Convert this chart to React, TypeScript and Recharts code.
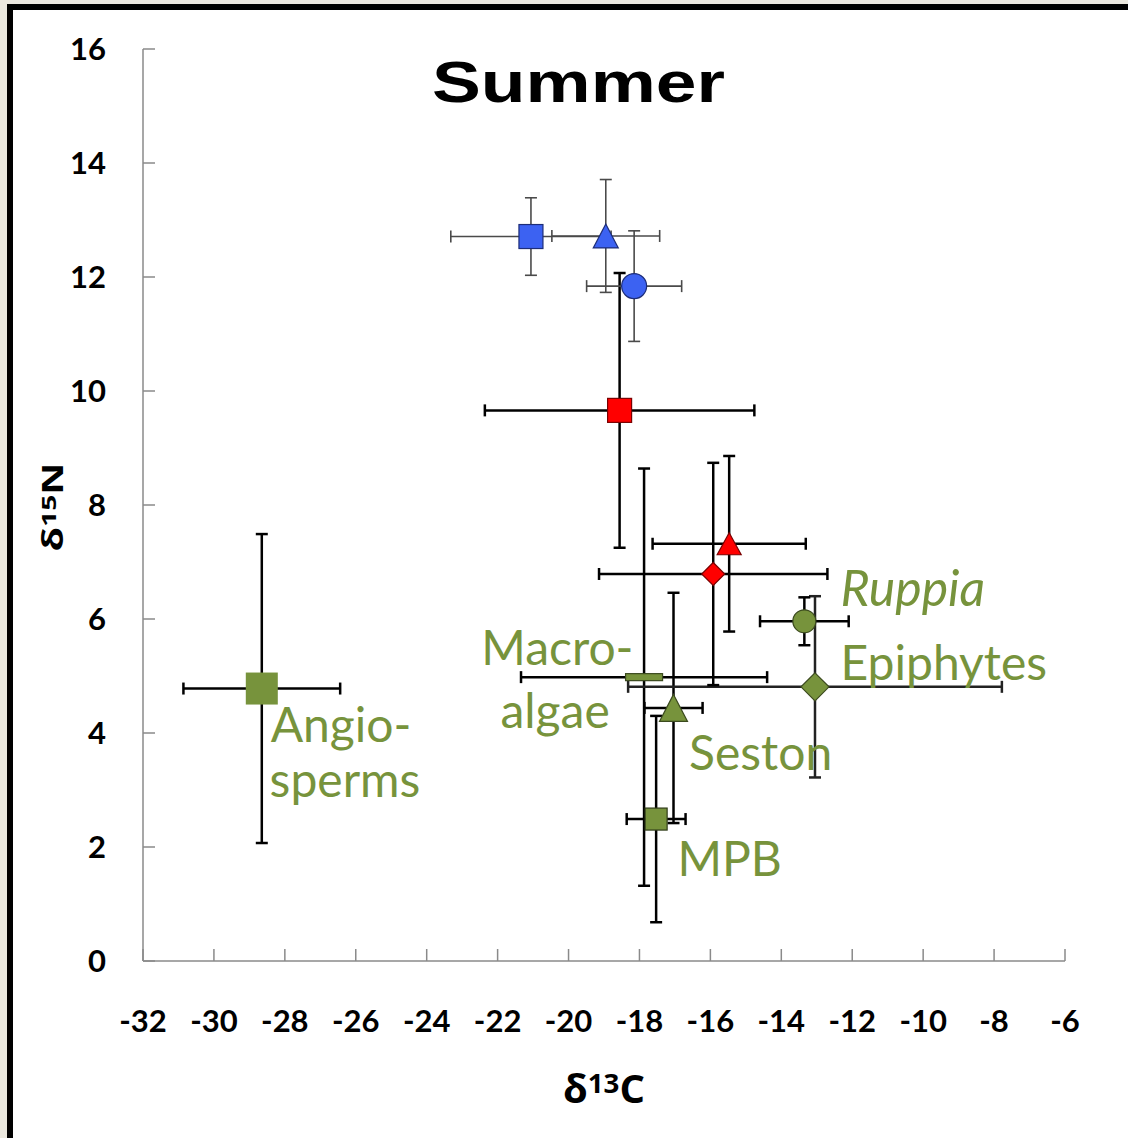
import { ScatterChart, Scatter, XAxis, YAxis, ErrorBar } from 'recharts';

// mean and SD for each source / consumer group
const SERIES = [
  'Angiosperms',
  'Macroalgae',
  'MPB',
  'Seston',
  'Epiphytes',
  'Ruppia',
  'Consumer red square',
  'Consumer red diamond',
  'Consumer red triangle',
  'Consumer blue square',
  'Consumer blue triangle',
  'Consumer blue circle',
];
const D13C = [-28.65, -17.87, -17.53, -17.04, -13.05, -13.35, -18.56, -15.92, -15.47, -21.06, -18.95, -18.15];
const D15N = [4.78, 4.98, 2.49, 4.44, 4.81, 5.96, 9.66, 6.79, 7.32, 12.71, 12.72, 11.84];
const SD13C = [2.21, 3.47, 0.83, 0.82, 5.27, 1.25, 3.8, 3.22, 2.16, 2.26, 1.52, 1.34];
const SD15N = [2.71, 3.66, 1.81, 2.02, 1.59, 0.42, 2.41, 1.95, 1.54, 0.68, 0.99, 0.97];

const X_TICKS = [-32, -30, -28, -26, -24, -22, -20, -18, -16, -14, -12, -10, -8, -6];
const Y_TICKS = [0, 2, 4, 6, 8, 10, 12, 14, 16];

// source name annotations (left end of the text baseline, in axis units)
const LABEL_TEXT = ['Ruppia', 'Epiphytes', 'Macro-', 'algae', 'Seston', 'MPB', 'Angio-', 'sperms'];
const LABEL_X = [-12.33, -12.33, -22.46, -21.92, -16.6, -16.93, -28.4, -28.43];
const LABEL_Y = [6.22, 4.93, 5.2, 4.09, 3.35, 1.49, 3.85, 2.88];

const GREEN = '#77933c';
const BLUE = '#3c62f2';
const RED = '#ff0000';

type Style = {
  kind: 'square' | 'circle' | 'triangle' | 'diamond' | 'bar';
  w: number;
  h: number;
  fill: string;
  stroke: string;
  bar: string;
  barWidth: number;
  barsOnTop?: boolean;
};

const STYLES: Record<string, Style> = {
  Angiosperms: { kind: 'square', w: 32, h: 32, fill: GREEN, stroke: 'none', bar: '#000', barWidth: 2.5, barsOnTop: true },
  Macroalgae: { kind: 'bar', w: 37, h: 7, fill: GREEN, stroke: '#3b4a1e', bar: '#000', barWidth: 2.5 },
  MPB: { kind: 'square', w: 22, h: 22, fill: GREEN, stroke: '#2f3b18', bar: '#000', barWidth: 2.5 },
  Seston: { kind: 'triangle', w: 28, h: 27, fill: GREEN, stroke: '#3b4a1e', bar: '#000', barWidth: 2.5 },
  Epiphytes: { kind: 'diamond', w: 28, h: 28, fill: GREEN, stroke: '#3b4a1e', bar: '#222', barWidth: 2.5 },
  Ruppia: { kind: 'circle', w: 23, h: 23, fill: GREEN, stroke: '#3b4a1e', bar: '#000', barWidth: 2.5 },
  'Consumer red square': { kind: 'square', w: 24, h: 24, fill: RED, stroke: '#7a0000', bar: '#000', barWidth: 2.5 },
  'Consumer red diamond': { kind: 'diamond', w: 23, h: 23, fill: RED, stroke: '#7a0000', bar: '#000', barWidth: 2.5 },
  'Consumer red triangle': { kind: 'triangle', w: 24, h: 22, fill: RED, stroke: '#7a0000', bar: '#000', barWidth: 2.5 },
  'Consumer blue square': { kind: 'square', w: 24, h: 24, fill: BLUE, stroke: '#1d2d78', bar: '#4a4a4a', barWidth: 1.6 },
  'Consumer blue triangle': { kind: 'triangle', w: 25, h: 24, fill: BLUE, stroke: '#1d2d78', bar: '#4a4a4a', barWidth: 1.6 },
  'Consumer blue circle': { kind: 'circle', w: 25, h: 25, fill: BLUE, stroke: '#1d2d78', bar: '#4a4a4a', barWidth: 1.6 },
};

const labelData = LABEL_TEXT.map((text, i) => ({ x: LABEL_X[i], y: LABEL_Y[i], text }));

function Marker(props: any) {
  const { cx, cy, st } = props as { cx: number; cy: number; st: Style };
  if (cx == null || cy == null) return <g />;
  const { w, h, fill, stroke } = st;
  const common = { fill, stroke, strokeWidth: stroke === 'none' ? 0 : 1.2 };
  switch (st.kind) {
    case 'circle':
      return <circle cx={cx} cy={cy} r={w / 2} {...common} />;
    case 'triangle':
      return (
        <polygon
          points={`${cx},${cy - h / 2} ${cx + w / 2},${cy + h / 2} ${cx - w / 2},${cy + h / 2}`}
          {...common}
        />
      );
    case 'diamond':
      return (
        <polygon
          points={`${cx},${cy - h / 2} ${cx + w / 2},${cy} ${cx},${cy + h / 2} ${cx - w / 2},${cy}`}
          {...common}
        />
      );
    default:
      return <rect x={cx - w / 2} y={cy - h / 2} width={w} height={h} {...common} />;
  }
}

function LabelText(props: any) {
  const { cx, cy, payload } = props;
  if (cx == null) return <g />;
  const italic = payload.text === 'Ruppia';
  return (
    <text
      x={cx}
      y={cy}
      fill={GREEN}
      fontFamily="Lato, 'Open Sans', sans-serif"
      fontSize={italic ? 50 : 48}
      fontStyle={italic ? 'italic' : 'normal'}
    >
      {payload.text}
    </text>
  );
}

const tickStyle = { fill: '#000', fontSize: 31, fontFamily: 'Lato, sans-serif', fontWeight: 700 };

export default function App() {
  return (
    <div style={{ position: 'absolute', left: 0, top: 0, width: 1128, height: 1138, background: '#ebe8df', overflow: 'hidden' }}>
      <div
        style={{
          position: 'absolute',
          left: 7,
          top: 4,
          width: 1121,
          height: 1134,
          boxSizing: 'border-box',
          borderLeft: '6px solid #000',
          borderTop: '6px solid #000',
          background: '#fff',
        }}
      />
      <div style={{ position: 'absolute', left: 0, top: 0 }}>
        <ScatterChart width={1128} height={1138} margin={{ top: 49, right: 63, bottom: 77, left: 0 }}>
          <XAxis
            type="number"
            dataKey="x"
            domain={[-32, -6]}
            ticks={X_TICKS}
            interval={0}
            height={100}
            axisLine={{ stroke: '#8a8a8a', strokeWidth: 1.5 }}
            tickLine={{ stroke: '#8a8a8a', strokeWidth: 1.5 }}
            tickSize={-12}
            tickMargin={61}
            tick={tickStyle}
          />
          <YAxis
            type="number"
            dataKey="y"
            domain={[0, 16]}
            ticks={Y_TICKS}
            interval={0}
            width={143}
            axisLine={{ stroke: '#8a8a8a', strokeWidth: 1.5 }}
            tickLine={{ stroke: '#8a8a8a', strokeWidth: 1.5 }}
            tickSize={-12}
            tickMargin={49}
            tick={tickStyle}
          />
          <Scatter data={labelData} isAnimationActive={false} shape={LabelText} />
          {SERIES.map((name, i) => {
            const st = STYLES[name];
            const data = [{ x: D13C[i], y: D15N[i], ex: SD13C[i], ey: SD15N[i] }];
            const bars = [
              <ErrorBar key="ex" dataKey="ex" direction="x" width={6} stroke={st.bar} strokeWidth={st.barWidth} />,
              <ErrorBar key="ey" dataKey="ey" direction="y" width={6} stroke={st.bar} strokeWidth={st.barWidth} />,
            ];
            if (st.barsOnTop) {
              return [
                <Scatter key={name} name={name} data={data} isAnimationActive={false} shape={(p: any) => <Marker {...p} st={st} />} />,
                <Scatter key={name + '-bars'} data={data} isAnimationActive={false} shape={() => <g />}>
                  {bars}
                </Scatter>,
              ];
            }
            return (
              <Scatter key={name} name={name} data={data} isAnimationActive={false} shape={(p: any) => <Marker {...p} st={st} />}>
                {bars}
              </Scatter>
            );
          })}
        </ScatterChart>
      </div>
      <svg width={1128} height={1138} style={{ position: 'absolute', left: 0, top: 0, pointerEvents: 'none' }}>
        <text
          x={432}
          y={102}
          fontFamily="'Liberation Sans', Arial, sans-serif"
          fontWeight={700}
          fontSize={57}
          textLength={293}
          lengthAdjust="spacingAndGlyphs"
          fill="#000"
        >
          Summer
        </text>
        <text
          x={563}
          y={1103}
          fontFamily="'Open Sans', sans-serif"
          fontWeight={700}
          fontSize={39}
          textLength={82}
          lengthAdjust="spacingAndGlyphs"
          fill="#000"
        >
          δ<tspan fontSize={27} dy={-10}>13</tspan>
          <tspan dy={10}>C</tspan>
        </text>
        <text
          transform="translate(63,507) rotate(-90)"
          x={0}
          y={0}
          textAnchor="middle"
          fontFamily="'Open Sans', sans-serif"
          fontWeight={700}
          fontSize={28}
          textLength={89}
          lengthAdjust="spacingAndGlyphs"
          fill="#000"
        >
          δ<tspan fontSize={20} dy={-7}>15</tspan>
          <tspan dy={7}>N</tspan>
        </text>
      </svg>
    </div>
  );
}
